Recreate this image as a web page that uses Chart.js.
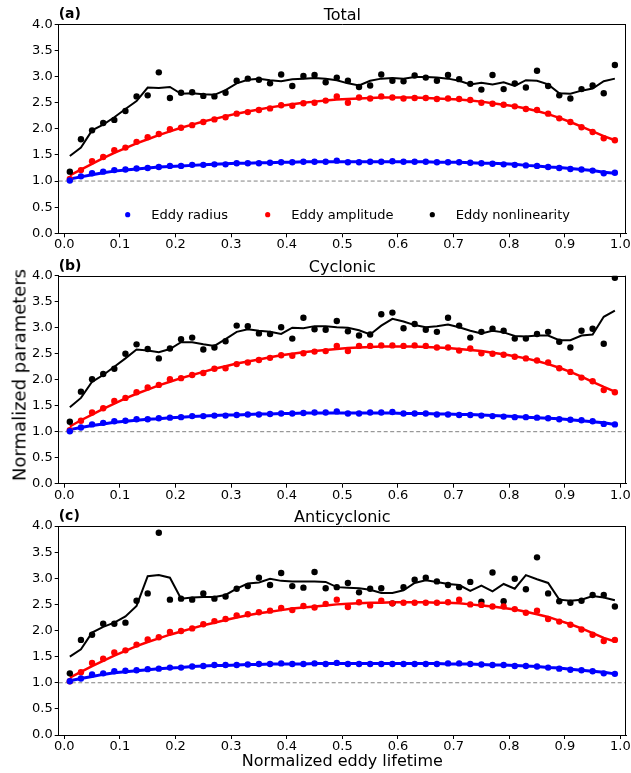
<!DOCTYPE html>
<html>
<head>
<meta charset="utf-8">
<script src="https://cdn.jsdelivr.net/npm/chart.js@4.4.1/dist/chart.umd.min.js"></script>
<style>
  html, body { margin: 0; padding: 0; background: #fff; }
  #wrap { position: relative; width: 631px; height: 773px; overflow: hidden; }
  canvas { position: absolute; left: 0; }
  #ylabel {
    position: absolute; left: 19px; top: 375px;
    transform: translate(-50%, -50%) rotate(-90deg);
    font: 18px 'DejaVu Sans', sans-serif; white-space: nowrap; color: #000;
  }
</style>
</head>
<body>
<div id="wrap">
  <canvas id="chartA" width="631" height="252" style="top:0"></canvas>
  <canvas id="chartB" width="631" height="252" style="top:252px"></canvas>
  <canvas id="chartC" width="631" height="269" style="top:504px"></canvas>
  <div id="ylabel">Normalized parameters</div>
</div>
<script>
// normalized eddy lifetime (bin centres)
const lifetime = [0.01,0.03,0.05,0.07,0.09,0.11,0.13,0.15,0.17,0.19,0.21,0.23,0.25,0.27,0.29,0.31,0.33,0.35,0.37,0.39,
                  0.41,0.43,0.45,0.47,0.49,0.51,0.53,0.55,0.57,0.59,0.61,0.63,0.65,0.67,0.69,0.71,0.73,0.75,0.77,0.79,
                  0.81,0.83,0.85,0.87,0.89,0.91,0.93,0.95,0.97,0.99];

const xTicks = [0.0,0.1,0.2,0.3,0.4,0.5,0.6,0.7,0.8,0.9,1.0];
const yTicks = [0.0,0.5,1.0,1.5,2.0,2.5,3.0,3.5,4.0];
const xMin = -0.01, xMax = 1.01;
const yMin = 0, yMax = 4;
const refLevel = 1.0;

const seriesLabels = ['Eddy radius', 'Eddy amplitude', 'Eddy nonlinearity'];
const seriesColors = ['#0000ff', '#ff0000', '#000000'];

// (a) Total
const totalRadius = [1.01,1.09,1.15,1.18,1.21,1.22,1.24,1.25,1.27,1.29,1.29,1.31,1.31,1.32,1.32,1.34,1.34,1.34,1.35,1.36,
                     1.36,1.37,1.37,1.37,1.39,1.36,1.36,1.37,1.37,1.38,1.37,1.37,1.37,1.36,1.36,1.36,1.35,1.34,1.33,1.32,
                     1.31,1.30,1.29,1.27,1.25,1.23,1.22,1.20,1.15,1.16];
const totalRadiusFit = [1.04,1.08,1.12,1.16,1.19,1.21,1.23,1.25,1.27,1.28,1.29,1.30,1.31,1.32,1.33,1.34,1.34,1.35,1.35,1.36,
                        1.36,1.37,1.37,1.37,1.37,1.37,1.37,1.37,1.37,1.37,1.37,1.37,1.37,1.36,1.36,1.36,1.35,1.34,1.34,1.33,
                        1.32,1.30,1.29,1.27,1.26,1.24,1.22,1.20,1.17,1.15];
const totalAmp = [1.04,1.21,1.38,1.46,1.59,1.64,1.75,1.84,1.90,1.99,2.02,2.07,2.13,2.18,2.22,2.29,2.32,2.36,2.39,2.45,
                  2.44,2.49,2.50,2.54,2.62,2.50,2.60,2.58,2.62,2.60,2.58,2.59,2.59,2.57,2.58,2.57,2.55,2.50,2.48,2.46,
                  2.43,2.38,2.36,2.29,2.20,2.13,2.03,1.94,1.82,1.78];
const totalAmpFit = [1.11,1.22,1.33,1.44,1.54,1.63,1.72,1.80,1.88,1.95,2.02,2.08,2.14,2.19,2.24,2.29,2.33,2.37,2.41,2.44,
                     2.47,2.50,2.52,2.54,2.56,2.57,2.58,2.59,2.60,2.60,2.60,2.60,2.59,2.58,2.57,2.56,2.54,2.52,2.49,2.46,
                     2.43,2.39,2.34,2.28,2.21,2.13,2.04,1.95,1.86,1.78];
const totalNonlin = [1.18,1.80,1.97,2.11,2.17,2.34,2.62,2.64,3.08,2.59,2.69,2.70,2.63,2.62,2.69,2.92,2.96,2.94,2.87,3.04,
                     2.82,3.01,3.03,2.89,2.98,2.92,2.80,2.83,3.04,2.92,2.91,3.02,2.98,2.92,3.03,2.95,2.86,2.75,3.03,2.76,
                     2.87,2.79,3.11,2.82,2.64,2.58,2.76,2.83,2.68,3.22];
const totalNonlinMean = [1.48,1.64,1.97,2.08,2.22,2.38,2.53,2.79,2.78,2.80,2.67,2.68,2.66,2.65,2.74,2.87,2.94,2.96,2.93,2.91,
                         2.95,2.96,2.97,2.96,2.93,2.87,2.83,2.92,2.96,2.97,2.96,2.99,2.99,2.98,2.96,2.92,2.85,2.88,2.85,2.89,
                         2.82,2.93,2.92,2.85,2.68,2.67,2.73,2.77,2.91,2.96];

// (b) Cyclonic
const cycRadius = [1.01,1.08,1.14,1.17,1.20,1.21,1.24,1.24,1.26,1.27,1.28,1.30,1.30,1.31,1.31,1.32,1.33,1.33,1.34,1.35,
                   1.35,1.36,1.37,1.37,1.39,1.35,1.35,1.37,1.37,1.38,1.35,1.35,1.35,1.33,1.33,1.32,1.32,1.31,1.30,1.29,
                   1.28,1.28,1.27,1.26,1.24,1.23,1.22,1.20,1.15,1.14];
const cycRadiusFit = [1.04,1.08,1.12,1.15,1.18,1.20,1.22,1.24,1.25,1.27,1.28,1.29,1.30,1.31,1.32,1.32,1.33,1.34,1.34,1.35,
                      1.35,1.36,1.36,1.36,1.36,1.36,1.36,1.36,1.36,1.36,1.35,1.35,1.35,1.34,1.34,1.33,1.33,1.32,1.31,1.30,
                      1.29,1.28,1.27,1.26,1.25,1.23,1.21,1.19,1.17,1.14];
const cycAmp = [1.03,1.21,1.37,1.45,1.59,1.65,1.76,1.85,1.90,2.01,2.03,2.09,2.13,2.21,2.22,2.30,2.33,2.38,2.42,2.47,
                2.46,2.51,2.54,2.55,2.65,2.55,2.65,2.65,2.66,2.66,2.65,2.66,2.65,2.62,2.62,2.56,2.60,2.51,2.50,2.48,
                2.44,2.41,2.37,2.33,2.22,2.15,2.04,1.97,1.80,1.76];
const cycAmpFit = [1.10,1.22,1.33,1.44,1.54,1.64,1.73,1.81,1.89,1.96,2.03,2.09,2.15,2.21,2.26,2.31,2.35,2.39,2.43,2.47,
                   2.50,2.53,2.55,2.57,2.59,2.61,2.62,2.63,2.64,2.64,2.64,2.64,2.63,2.62,2.61,2.59,2.57,2.55,2.52,2.49,
                   2.45,2.41,2.36,2.30,2.23,2.15,2.06,1.96,1.86,1.77];
const cycNonlin = [1.19,1.77,2.01,2.11,2.21,2.50,2.68,2.59,2.41,2.60,2.78,2.81,2.58,2.62,2.74,3.04,3.03,2.89,2.88,3.01,
                   2.79,3.19,2.97,2.96,3.13,2.93,2.85,2.87,3.26,3.29,2.99,3.07,2.96,2.92,3.19,3.04,2.81,2.92,2.98,2.94,
                   2.79,2.79,2.88,2.92,2.73,2.62,2.94,2.98,2.69,3.96];
const cycNonlinMean = [1.47,1.65,1.96,2.09,2.25,2.41,2.58,2.56,2.53,2.59,2.72,2.72,2.68,2.65,2.78,2.92,2.97,2.94,2.92,2.88,
                       3.00,2.99,3.03,3.03,3.01,3.00,2.95,2.87,3.04,3.17,3.12,3.05,3.01,3.03,3.06,3.01,2.94,2.89,2.94,2.91,
                       2.84,2.83,2.85,2.85,2.76,2.76,2.85,2.87,3.21,3.33];

// (c) Anticyclonic
const antiRadius = [1.03,1.08,1.16,1.18,1.22,1.23,1.24,1.26,1.27,1.29,1.29,1.31,1.32,1.34,1.34,1.34,1.35,1.36,1.36,1.37,
                    1.36,1.36,1.37,1.36,1.38,1.36,1.36,1.36,1.36,1.36,1.36,1.36,1.36,1.36,1.37,1.37,1.36,1.35,1.34,1.34,
                    1.32,1.32,1.31,1.29,1.27,1.25,1.24,1.22,1.18,1.17];
const antiRadiusFit = [1.04,1.08,1.12,1.16,1.19,1.21,1.23,1.25,1.27,1.28,1.29,1.31,1.32,1.33,1.33,1.34,1.35,1.35,1.36,1.36,
                       1.36,1.36,1.37,1.37,1.37,1.37,1.37,1.37,1.37,1.37,1.37,1.37,1.37,1.37,1.36,1.36,1.36,1.35,1.34,1.34,
                       1.33,1.32,1.31,1.29,1.28,1.26,1.24,1.22,1.20,1.17];
const antiAmp = [1.03,1.20,1.38,1.46,1.58,1.62,1.73,1.83,1.87,1.97,1.99,2.04,2.12,2.18,2.22,2.29,2.31,2.35,2.38,2.43,
                 2.39,2.47,2.44,2.51,2.59,2.45,2.54,2.48,2.57,2.52,2.53,2.53,2.53,2.53,2.54,2.59,2.50,2.49,2.46,2.46,
                 2.41,2.34,2.38,2.22,2.17,2.11,2.02,1.92,1.80,1.82];
const antiAmpFit = [1.10,1.21,1.32,1.42,1.52,1.61,1.70,1.78,1.85,1.92,1.98,2.04,2.10,2.15,2.20,2.25,2.29,2.33,2.36,2.39,
                    2.42,2.44,2.46,2.48,2.50,2.51,2.52,2.53,2.53,2.54,2.54,2.54,2.54,2.53,2.53,2.52,2.50,2.48,2.46,2.43,
                    2.40,2.36,2.31,2.26,2.19,2.12,2.04,1.95,1.86,1.79];
const antiNonlin = [1.18,1.82,1.92,2.13,2.13,2.15,2.57,2.71,3.87,2.59,2.61,2.59,2.71,2.61,2.65,2.80,2.85,3.01,2.87,3.10,
                    2.85,2.82,3.12,2.81,2.83,2.91,2.73,2.80,2.81,2.52,2.83,2.97,3.01,2.94,2.87,2.83,2.93,2.55,3.11,2.56,
                    2.99,2.79,3.40,2.71,2.56,2.53,2.57,2.68,2.68,2.46];
const antiNonlinMean = [1.50,1.64,1.96,2.07,2.15,2.27,2.47,3.04,3.06,3.01,2.61,2.63,2.64,2.64,2.68,2.80,2.90,2.92,2.99,2.95,
                        2.94,2.94,2.94,2.93,2.83,2.82,2.81,2.78,2.72,2.72,2.77,2.91,2.96,2.93,2.89,2.87,2.76,2.86,2.75,2.89,
                        2.80,3.06,2.98,2.91,2.59,2.57,2.59,2.66,2.63,2.58];

Chart.defaults.font.family = "'DejaVu Sans', sans-serif";
Chart.defaults.color = '#000';

function pts(ys) {
    return lifetime.map((x, i) => ({ x: x, y: ys[i] }));
}

// box on top/right, panel letter and title
const panelDecor = {
    id: 'panelDecor',
    afterDraw(chart, args, opts) {
        const { ctx, chartArea: a } = chart;
        ctx.save();
        ctx.strokeStyle = '#000';
        ctx.lineWidth = 1;
        ctx.beginPath();
        ctx.moveTo(a.left, Math.round(a.top) + 0.5);
        ctx.lineTo(a.right, Math.round(a.top) + 0.5);
        ctx.moveTo(Math.round(a.right) - 0.5, a.top);
        ctx.lineTo(Math.round(a.right) - 0.5, a.bottom);
        ctx.stroke();
        ctx.fillStyle = '#000';
        ctx.textBaseline = 'alphabetic';
        ctx.textAlign = 'left';
        ctx.font = "bold 14px 'DejaVu Sans', sans-serif";
        ctx.fillText(opts.letter, a.left, a.top - 6);
        ctx.textAlign = 'center';
        ctx.font = "16px 'DejaVu Sans', sans-serif";
        ctx.fillText(opts.title, (a.left + a.right) / 2, a.top - 4);
        if (opts.legend) {
            const dotX = [69, 209, 373.6];
            const y = a.bottom - 18.6;
            ctx.font = "13px 'DejaVu Sans', sans-serif";
            ctx.textAlign = 'left';
            ctx.textBaseline = 'middle';
            seriesLabels.forEach((lab, i) => {
                ctx.fillStyle = seriesColors[i];
                ctx.beginPath();
                ctx.arc(a.left + dotX[i], y, 2.6, 0, Math.PI * 2);
                ctx.fill();
                ctx.fillStyle = '#000';
                ctx.fillText(lab, a.left + dotX[i] + 23.5, y + 0.5);
            });
        }
        ctx.restore();
    }
};

function makePanel(id, cfg) {
    const dots = [cfg.radius, cfg.amp, cfg.nonlin];
    const lines = [cfg.radiusFit, cfg.ampFit, cfg.nonlinMean];
    const widths = [3, 2.5, 2];
    const datasets = [];
    dots.forEach((d, i) => {
        datasets.push({
            label: seriesLabels[i],
            data: pts(d),
            showLine: false,
            pointRadius: 3.2,
            pointBorderWidth: 0,
            pointBackgroundColor: seriesColors[i],
            order: 1
        });
    });
    lines.forEach((d, i) => {
        datasets.push({
            label: seriesLabels[i] + ' fit',
            data: pts(d),
            showLine: true,
            borderColor: seriesColors[i],
            borderWidth: widths[i],
            pointRadius: 0,
            tension: 0,
            order: 2
        });
    });
    datasets.push({
        label: 'reference',
        data: [{ x: xMin, y: refLevel }, { x: xMax, y: refLevel }],
        showLine: true,
        borderColor: '#808080',
        borderWidth: 1,
        borderDash: [4, 2.5],
        pointRadius: 0,
        order: 3
    });

    return new Chart(document.getElementById(id).getContext('2d'), {
        type: 'scatter',
        data: { datasets: datasets },
        options: {
            responsive: false,
            animation: false,
            events: [],
            layout: { padding: { top: cfg.padTop, right: 5, left: 0, bottom: 0 } },
            plugins: {
                legend: { display: false },
                tooltip: { enabled: false },
                panelDecor: { letter: cfg.letter, title: cfg.title, legend: cfg.legend }
            },
            scales: {
                x: {
                    type: 'linear',
                    min: xMin,
                    max: xMax,
                    afterBuildTicks: s => { s.ticks = xTicks.map(v => ({ value: v })); },
                    afterFit: s => { s.height = cfg.xHeight; s.paddingLeft = 0; s.paddingRight = 0; },
                    ticks: {
                        font: { size: 13 },
                        padding: 0,
                        maxRotation: 0,
                        callback: v => v.toFixed(1)
                    },
                    grid: { drawOnChartArea: false, drawTicks: true, tickLength: 4, color: '#000', tickColor: '#000' },
                    border: { display: true, color: '#000', width: 1 },
                    title: {
                        display: !!cfg.xTitle,
                        text: cfg.xTitle || '',
                        font: { size: 16 },
                        padding: { top: 0, bottom: 1.5 }
                    }
                },
                y: {
                    min: yMin,
                    max: yMax,
                    afterBuildTicks: s => { s.ticks = yTicks.map(v => ({ value: v })); },
                    afterFit: s => { s.width = 58.7; s.paddingTop = 0; s.paddingBottom = 0; },
                    ticks: {
                        font: { size: 13 },
                        padding: 2,
                        callback: v => v.toFixed(1)
                    },
                    grid: { drawOnChartArea: false, drawTicks: true, tickLength: 4, color: '#000', tickColor: '#000' },
                    border: { display: true, color: '#000', width: 1 }
                }
            }
        },
        plugins: [panelDecor]
    });
}

makePanel('chartA', {
    letter: '(a)', title: 'Total', legend: true, padTop: 24.3, xHeight: 18.7,
    radius: totalRadius, radiusFit: totalRadiusFit,
    amp: totalAmp, ampFit: totalAmpFit,
    nonlin: totalNonlin, nonlinMean: totalNonlinMean
});
makePanel('chartB', {
    letter: '(b)', title: 'Cyclonic', legend: false, padTop: 23.7, xHeight: 20.3,
    radius: cycRadius, radiusFit: cycRadiusFit,
    amp: cycAmp, ampFit: cycAmpFit,
    nonlin: cycNonlin, nonlinMean: cycNonlinMean
});
makePanel('chartC', {
    letter: '(c)', title: 'Anticyclonic', legend: false, padTop: 22, xHeight: 38,
    xTitle: 'Normalized eddy lifetime',
    radius: antiRadius, radiusFit: antiRadiusFit,
    amp: antiAmp, ampFit: antiAmpFit,
    nonlin: antiNonlin, nonlinMean: antiNonlinMean
});
</script>
</body>
</html>
